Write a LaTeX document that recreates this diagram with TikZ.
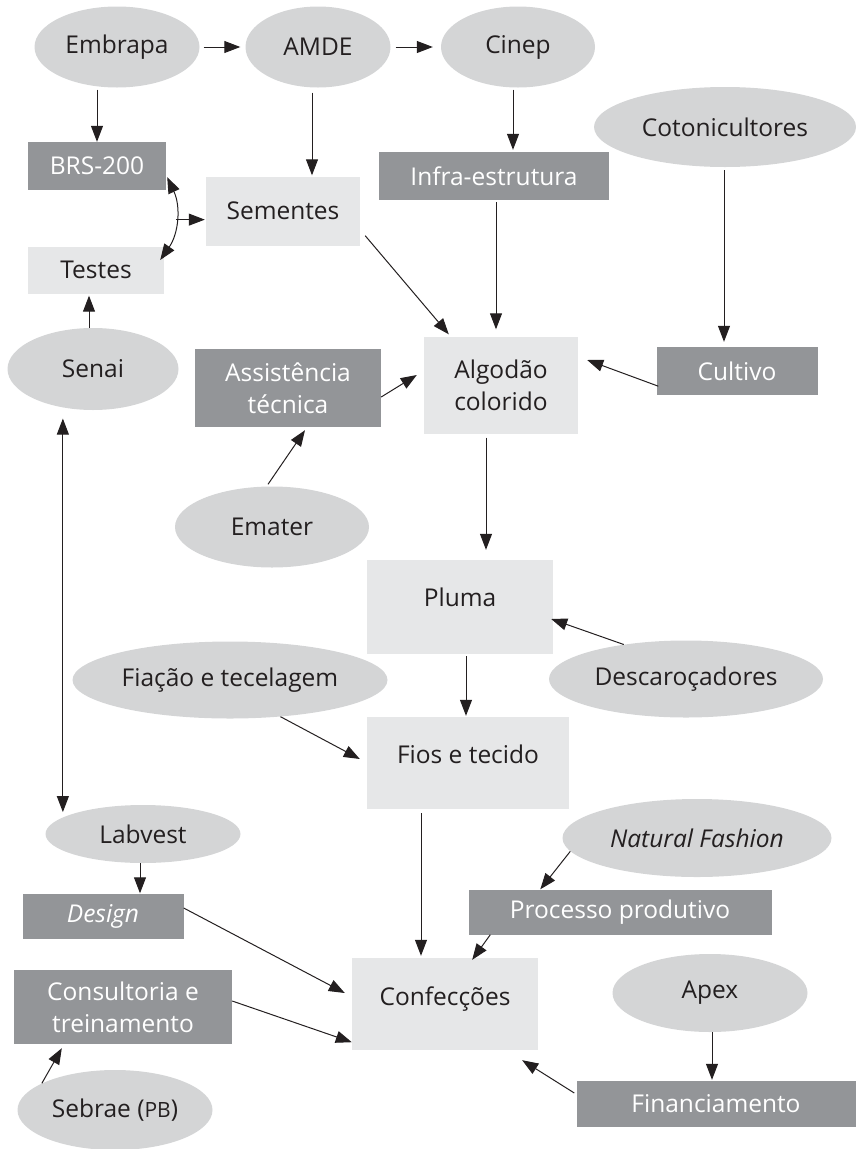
\documentclass[tikz,border=0pt]{standalone}
\usepackage{fontspec}
\setmainfont{Open Sans}
\usetikzlibrary{shapes.geometric,arrows.meta}
\definecolor{orggray}{HTML}{D4D5D6}
\definecolor{itemgray}{HTML}{E6E7E8}
\definecolor{actgray}{HTML}{939598}
\definecolor{ink}{HTML}{231F20}
\tikzset{
  org/.style={ellipse, fill=orggray, text=ink, inner sep=0pt},
  item/.style={rectangle, fill=itemgray, text=ink, inner sep=0pt, align=center},
  act/.style={rectangle, fill=actgray, text=white, inner sep=0pt, align=center},
  arr/.style={-{Triangle[length=16pt,width=12pt]}, line width=1pt, draw=ink},
  arrboth/.style={{Triangle[length=16pt,width=12pt]}-{Triangle[length=16pt,width=12pt]}, line width=1pt, draw=ink},
}
\begin{document}
\begin{tikzpicture}[x=1pt, y=-1pt, font=\fontsize{24.5}{32}\selectfont]
	\useasboundingbox (0,0) rectangle (856,1149);
	% top row
	\node[org, minimum width=165pt, minimum height=81pt] (emb) at (117,47) {Embrapa};
	\node[org, minimum width=145pt, minimum height=81pt] (amde) at (318,47) {AMDE};
	\node[org, minimum width=154pt, minimum height=81pt] (cin) at (518,47) {Cinep};
	\node[org, minimum width=262pt, minimum height=80pt] (coto) at (725,127) {Cotonicultores};
	\node[act, minimum width=138pt, minimum height=48pt] (brs) at (97,166) {BRS-200};
	\node[act, minimum width=230pt, minimum height=48pt] (infra) at (494,176) {Infra-estrutura};
	\node[item, minimum width=154pt, minimum height=69pt] (sem) at (283,211) {Sementes};
	\node[item, minimum width=136pt, minimum height=47pt] (tes) at (96,270) {Testes};
	% middle
	\node[org, minimum width=171pt, minimum height=82pt] (sen) at (93,369) {Senai};
	\node[act, minimum width=186pt, minimum height=78pt] (asst) at (288,388) {Assistência\\técnica};
	\node[item, minimum width=154pt, minimum height=97pt] (alg) at (501,385) {Algodão\\colorido};
	\node[act, minimum width=161pt, minimum height=48pt] (cult) at (737,371) {Cultivo};
	\node[org, minimum width=194pt, minimum height=81pt] (emat) at (272,527) {Emater};
	\node[item, minimum width=186pt, minimum height=94pt, text depth=19pt] (plu) at (460,607) {Pluma};
	\node[org, minimum width=315pt, minimum height=77pt] (fia) at (230,680) {Fiação e tecelagem};
	\node[org, minimum width=274pt, minimum height=77pt] (desc) at (686,679) {Descaroçadores};
	\node[item, minimum width=202pt, minimum height=92pt, text depth=18pt] (fios) at (468,763) {Fios e tecido};
	% bottom
	\node[org, minimum width=195pt, minimum height=58pt] (lab) at (143,834) {Labvest};
	\node[org, minimum width=269pt, minimum height=78pt] (nat) at (697,838) {\itshape Natural Fashion};
	\node[act, minimum width=161pt, minimum height=45pt] (des) at (103,916) {\itshape Design};
	\node[act, minimum width=303pt, minimum height=45pt] (proc) at (620,912) {Processo produtivo};
	\node[item, minimum width=186pt, minimum height=92pt, text depth=15pt] (conf) at (445,1004) {Confecções};
	\node[act, minimum width=218pt, minimum height=74pt] (cons) at (123,1007) {Consultoria e\\treinamento};
	\node[org, minimum width=195pt, minimum height=78pt] (apex) at (710,993) {Apex};
	\node[act, minimum width=279pt, minimum height=46pt] (fin) at (716,1104) {Financiamento};
	\node[org, minimum width=195pt, minimum height=80pt] (seb) at (115,1110) {Sebrae ({\fontsize{21}{21}\selectfont PB})};
	% arrows
	\draw[arr, shorten <=4pt, shorten >=5pt] (emb) -- (amde);
	\draw[arr, shorten <=5pt, shorten >=8pt] (amde) -- (cin);
	\draw[arr, shorten <=2pt] (brs.north |- emb.south) -- (brs.north);
	\draw[arr, shorten <=5pt, shorten >=1pt] ([xshift=-6pt]amde.south) -- ([xshift=-6pt]amde.south |- sem.north);
	\draw[arr, shorten <=2pt, shorten >=2pt] ([xshift=-5pt]cin.south) -- ([xshift=-5pt]cin.south |- infra.north);
	\draw[arr, shorten <=3pt, shorten >=5pt] ([xshift=-1pt]coto.south) -- ([xshift=-1pt]coto.south |- cult.north);
	\draw[arr, shorten <=2pt, shorten >=7pt] ([xshift=2pt]infra.south) -- ([xshift=2pt]infra.south |- alg.north);
	\draw[arr] ([xshift=5pt,yshift=10pt]sem.south east) -- ([xshift=25pt,yshift=2pt]alg.north west);
	\draw[arr] ([xshift=2pt,yshift=9pt]cult.south west) -- ([xshift=9pt,yshift=25pt]alg.east);
	\draw[arr] ([yshift=-9pt]asst.east) -- ([xshift=-7pt,yshift=10pt]alg.west);
	\draw[arr] ([xshift=-4pt,yshift=2pt]emat.north) -- ([xshift=17pt,yshift=-3pt]asst.south);
	\draw[arr, shorten <=4pt, shorten >=10pt] ([xshift=-15pt]alg.south) -- ([xshift=-15pt]alg.south |- plu.north);
	\draw[arr] (desc.151) -- ([xshift=-2pt,yshift=-12pt]plu.east);
	\draw[arr, shorten <=2pt, shorten >=1pt] ([xshift=6pt]plu.south) -- ([xshift=6pt]plu.south |- fios.north);
	\draw[arr] (fia.-36) -- ([xshift=-7pt,yshift=4pt]fios.west);
	\draw[arr, shorten <=4pt, shorten >=2pt] ([xshift=-47pt]fios.south) -- ([xshift=-47pt]fios.south |- conf.north);
	\draw[arr] (nat.-174) -- ([xshift=72pt]proc.north west);
	\draw[arr] ([xshift=22pt]proc.south west) -- ([xshift=-66pt,yshift=-2pt]conf.north east);
	\draw[arr] ([yshift=8pt]des.east) -- ([xshift=-7pt,yshift=11pt]conf.west);
	\draw[arr] ([yshift=6pt]cons.east) -- ([yshift=8pt]conf.south west);
	\draw[arr] (seb.160) -- ([xshift=48pt,yshift=-4pt]cons.south west);
	\draw[arr, shorten >=1pt] ([xshift=2pt]apex.south) -- ([xshift=2pt]apex.south |- fin.north);
	\draw[arr] ([xshift=-2pt,yshift=11pt]fin.west) -- ([xshift=-16pt,yshift=-10pt]conf.south east);
	\draw[arr] ([xshift=-3pt]lab.south) -- ([xshift=-3pt]lab.south |- des.north);
	\draw[arr, shorten >=2pt] ([xshift=-4pt]sen.north) -- ([xshift=-4pt]sen.north |- tes.south);
	\draw[arrboth, shorten <=11pt, shorten >=5pt] (sen.-128) -- (sen.-128 |- lab.168);
	\draw[arrboth] ([xshift=1pt,yshift=13pt]brs.south east) to[bend left=30] coordinate[pos=0.5] (bend) ([xshift=-4pt,yshift=10pt]tes.east);
	\draw[arr, shorten >=1pt] (bend) -- (bend -| sem.west);
\end{tikzpicture}
\end{document}
